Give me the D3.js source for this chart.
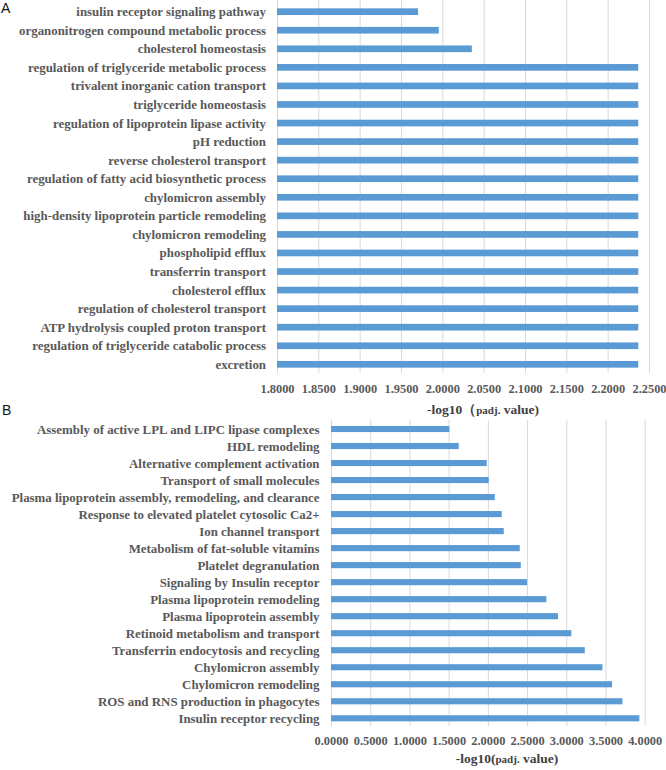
<!DOCTYPE html>
<html>
<head>
<meta charset="utf-8">
<script src="https://cdn.jsdelivr.net/npm/d3@7"></script>
<style>
  html, body { margin: 0; padding: 0; background: #fff; }
  svg { display: block; }
  svg text.lbl { font-family: "Liberation Serif", "Times New Roman", serif !important; font-weight: bold; }
</style>
</head>
<body>
<script>
// ---------- Panel A data ----------
const categoriesA = [
  "insulin receptor signaling pathway",
  "organonitrogen compound metabolic process",
  "cholesterol homeostasis",
  "regulation of triglyceride metabolic process",
  "trivalent inorganic cation transport",
  "triglyceride homeostasis",
  "regulation of lipoprotein lipase activity",
  "pH reduction",
  "reverse cholesterol transport",
  "regulation of fatty acid biosynthetic process",
  "chylomicron assembly",
  "high-density lipoprotein particle remodeling",
  "chylomicron remodeling",
  "phospholipid efflux",
  "transferrin transport",
  "cholesterol efflux",
  "regulation of cholesterol transport",
  "ATP hydrolysis coupled proton transport",
  "regulation of triglyceride catabolic process",
  "excretion"
];
const valuesA = [1.9707, 1.9957, 2.0357, 2.2370, 2.2370, 2.2370, 2.2370, 2.2370, 2.2370, 2.2370,
                 2.2370, 2.2370, 2.2370, 2.2370, 2.2370, 2.2370, 2.2370, 2.2370, 2.2370, 2.2370];
const ticksA = [1.80, 1.85, 1.90, 1.95, 2.00, 2.05, 2.10, 2.15, 2.20, 2.25];

// ---------- Panel B data ----------
const categoriesB = [
  "Assembly of active LPL and LIPC lipase complexes",
  "HDL remodeling",
  "Alternative complement activation",
  "Transport of small molecules",
  "Plasma lipoprotein assembly, remodeling, and clearance",
  "Response to elevated platelet cytosolic Ca2+",
  "Ion channel transport",
  "Metabolism of fat-soluble vitamins",
  "Platelet degranulation ",
  "Signaling by Insulin receptor",
  "Plasma lipoprotein remodeling",
  "Plasma lipoprotein assembly",
  "Retinoid metabolism and transport",
  "Transferrin endocytosis and recycling",
  "Chylomicron assembly",
  "Chylomicron remodeling",
  "ROS and RNS production in phagocytes",
  "Insulin receptor recycling"
];
const valuesB = [1.509, 1.629, 1.986, 2.011, 2.088, 2.177, 2.203, 2.407, 2.420, 2.500,
                 2.746, 2.895, 3.065, 3.236, 3.461, 3.584, 3.716, 3.932];
const ticksB = [0, 0.5, 1.0, 1.5, 2.0, 2.5, 3.0, 3.5, 4.0];

const W = 666, H = 770;
const svg = d3.select("body").append("svg").attr("width", W).attr("height", H);

const BAR = "#5b9bd5", GRID = "#d9d9d9", TXT = "#595959";
const SERIF = "'Liberation Serif', 'Times New Roman', serif";
const fmt = d3.format(".4f");

function panel(cfg) {
  const x = d3.scaleLinear().domain(cfg.domain).range(cfg.xRange);
  const y = d3.scaleBand().domain(cfg.cats).range(cfg.yRange).paddingInner(0.64).paddingOuter(0.32);
  const g = svg.append("g");

  // gridlines
  const grid = g.append("g")
    .attr("transform", `translate(0,${cfg.gridBottom})`)
    .call(d3.axisBottom(x).tickValues(cfg.ticks).tickSize(-(cfg.gridBottom - cfg.gridTop)).tickFormat(""));
  grid.select(".domain").remove();
  grid.selectAll(".tick line").attr("stroke", GRID).attr("stroke-width", 1);

  // bars
  g.selectAll("rect.bar").data(cfg.cats).join("rect")
    .attr("class", "bar")
    .attr("x", x(cfg.domain[0]))
    .attr("y", d => y(d))
    .attr("width", (d, i) => x(cfg.values[i]) - x(cfg.domain[0]))
    .attr("height", y.bandwidth())
    .attr("fill", BAR);

  // category labels
  g.selectAll("text.cat").data(cfg.cats).join("text")
    .attr("class", "lbl cat")
    .attr("x", cfg.labelX)
    .attr("y", d => y(d) + y.bandwidth() / 2)
    .attr("dy", "0.35em")
    .attr("text-anchor", "end")
    .attr("font-size", 12.9)
    .attr("fill", TXT)
    .style("font-family", SERIF)
    .style("font-weight", "bold")
    .text(d => d);

  // tick labels
  const ax = g.append("g")
    .attr("transform", `translate(0,${cfg.tickY})`)
    .call(d3.axisBottom(x).tickValues(cfg.ticks).tickSize(0).tickPadding(0).tickFormat(fmt));
  ax.attr("font-family", SERIF);
  ax.select(".domain").remove();
  ax.selectAll("text")
    .attr("class", "lbl")
    .attr("font-size", 12.4)
    .attr("fill", TXT)
    .style("font-family", SERIF)
    .style("font-weight", "bold")
    .attr("dy", "0.35em");

  // axis title
  const t = g.append("text")
    .attr("class", "lbl")
    .attr("x", cfg.titleX).attr("y", cfg.titleY)
    .attr("dy", "0.35em")
    .attr("text-anchor", "middle")
    .attr("font-size", 13.5)
    .attr("fill", "#404040")
    .style("font-family", SERIF)
    .style("font-weight", "bold");
  t.append("tspan").text(cfg.titlePre);
  t.append("tspan").attr("font-size", 11).text("padj.");
  t.append("tspan").text(" value)");

  // panel letter
  svg.append("text")
    .attr("x", cfg.letterX).attr("y", cfg.letterY)
    .attr("dy", "0.35em")
    .attr("font-family", "Liberation Sans, Arial, sans-serif")
    .attr("font-size", 14)
    .attr("fill", "#111")
    .text(cfg.letter);
}

panel({
  cats: categoriesA, values: valuesA, ticks: ticksA,
  domain: [1.8, 2.25], xRange: [277, 649],
  yRange: [2.4, 373.6], gridTop: 0, gridBottom: 373,
  labelX: 266, tickY: 388.5, titleX: 483, titleY: 409,
  titlePre: "-log10（", letter: "A", letterX: 1, letterY: 8
});

panel({
  cats: categoriesB, values: valuesB, ticks: ticksB,
  domain: [0, 4], xRange: [331, 644.7],
  yRange: [420.5, 726.8], gridTop: 420, gridBottom: 726,
  labelX: 319.5, tickY: 740.5, titleX: 507, titleY: 758.5,
  titlePre: "-log10(", letter: "B", letterX: 2, letterY: 410
});
</script>
</body>
</html>
